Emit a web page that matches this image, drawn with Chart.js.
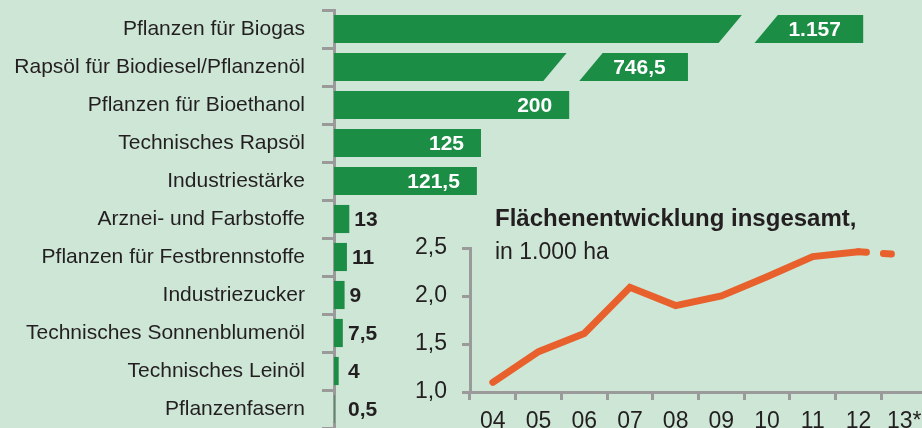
<!DOCTYPE html>
<html><head><meta charset="utf-8">
<script src="https://cdn.jsdelivr.net/npm/chart.js@4.4.1/dist/chart.umd.min.js"></script>
<style>
html,body{margin:0;padding:0;width:922px;height:428px;overflow:hidden;background:#cde6d6;}
#wrap{position:relative;width:922px;height:428px;overflow:hidden;}
#bars{position:absolute;left:0;top:0;}
#inset{position:absolute;left:400px;top:230px;}
.t{position:absolute;left:495px;white-space:nowrap;color:#231f20;font-family:'Liberation Sans Narrow','Arial Narrow','Liberation Sans',Arial,sans-serif;}
</style></head><body>
<div id="wrap">
<canvas id="bars" width="922" height="428"></canvas>
<canvas id="inset" width="540" height="198"></canvas>
<div class="t" style="top:206px;font-size:24px;line-height:24px;font-weight:bold;">Flächenentwicklung insgesamt,</div>
<div class="t" style="top:240px;font-size:23px;line-height:23px;">in 1.000 ha</div>
</div>
<script>
// ---- data ----
const categories = ['Pflanzen für Biogas','Rapsöl für Biodiesel/Pflanzenöl','Pflanzen für Bioethanol','Technisches Rapsöl','Industriestärke','Arznei- und Farbstoffe','Pflanzen für Festbrennstoffe','Industriezucker','Technisches Sonnenblumenöl','Technisches Leinöl','Pflanzenfasern'];
const areaValues = [1157, 746.5, 200, 125, 121.5, 13, 11, 9, 7.5, 4, 0.5];
const years = ['04','05','06','07','08','09','10','11','12','13*'];
const totalArea = [1.10, 1.42, 1.61, 2.09, 1.90, 2.00, 2.20, 2.41, 2.46, 2.43];

// ---- style ----
const BG = '#cde6d6', GREEN = '#1b8d44', GRAY = '#9a9a9a', TEXT = '#231f20', ORANGE = '#e8602c';
const FONT = "'Liberation Sans Narrow','Arial Narrow','Liberation Sans',Arial,sans-serif";

function fmt(v){
  let [i,d] = String(v).split('.');
  i = i.replace(/\B(?=(\d{3})+(?!\d))/g,'.');
  return d ? i + ',' + d : i;
}
function noPad(s){ s.paddingTop = 0; s.paddingBottom = 0; s.paddingLeft = 0; s.paddingRight = 0; }

// broken value axis: values above the break are compressed
const BREAK_AT = 300;
function axisPosition(v){ return v > BREAK_AT ? 30 + v * 0.363 : v; }
class BrokenScale extends Chart.LinearScale {
  getPixelForValue(v){ return super.getPixelForValue(axisPosition(v)); }
}
BrokenScale.id = 'broken';
BrokenScale.defaults = Chart.LinearScale.defaults;
Chart.register(BrokenScale);

const barLabels = {
  id:'barLabels',
  afterDatasetsDraw(chart){
    const ctx = chart.ctx;
    const meta = chart.getDatasetMeta(0);
    meta.data.forEach((bar, i) => {
      const v = areaValues[i];
      const p = bar.getProps(['x','y','height'], true);
      const x = p.x, y = p.y, h = p.height;
      ctx.save();
      ctx.textBaseline = 'middle';
      if (v > BREAK_AT) {
        const top = y - h/2, bot = y + h/2, cx = x - 115, hw = 18, sl = 12.5;
        ctx.fillStyle = BG;
        ctx.beginPath();
        ctx.moveTo(cx - hw + sl, top - 1);
        ctx.lineTo(cx + hw + sl, top - 1);
        ctx.lineTo(cx + hw - sl, bot + 1);
        ctx.lineTo(cx - hw - sl, bot + 1);
        ctx.closePath();
        ctx.fill();
        ctx.fillStyle = '#fff';
        ctx.font = 'bold 21px ' + FONT;
        ctx.textAlign = 'center';
        ctx.fillText(fmt(v), (cx + hw + x) / 2, y + 1);
      } else if (v >= 100) {
        ctx.fillStyle = '#fff';
        ctx.font = 'bold 21px ' + FONT;
        ctx.textAlign = 'right';
        ctx.fillText(fmt(v), x - 17, y + 1);
      } else {
        ctx.fillStyle = TEXT;
        ctx.font = 'bold 21px ' + FONT;
        ctx.textAlign = 'left';
        ctx.fillText(fmt(v), Math.max(x + 5, 348), y + 1);
      }
      ctx.restore();
    });
  }
};

new Chart(document.getElementById('bars'), {
  type:'bar',
  data:{labels:categories, datasets:[{data:areaValues, backgroundColor:GREEN, borderWidth:0, barPercentage:0.74, categoryPercentage:1}]},
  options:{
    indexAxis:'y', responsive:false, animation:false,
    layout:{padding:{top:10, right:0, bottom:0, left:0}},
    plugins:{legend:{display:false}, tooltip:{enabled:false}},
    scales:{
      x:{type:'broken', display:false, min:0, max:500},
      y:{
        grid:{offset:true, drawOnChartArea:false, tickLength:12, color:GRAY, lineWidth:3},
        border:{color:GRAY, width:3},
        ticks:{color:TEXT, font:{family:FONT, size:21}, padding:17, autoSkip:false},
        afterFit(s){ s.width = 334; noPad(s); }
      }
    }
  },
  plugins:[barLabels]
});

new Chart(document.getElementById('inset'), {
  type:'line',
  data:{labels:years, datasets:[{
    data:totalArea, borderColor:ORANGE, borderWidth:7, borderCapStyle:'round', borderJoinStyle:'miter',
    pointRadius:0, tension:0, fill:false, clip:10,
    segment:{borderDash: c => c.p1DataIndex === years.length - 1 ? [8,17] : undefined}
  }]},
  options:{
    responsive:false, animation:false,
    layout:{padding:{top:18, right:13, left:0, bottom:0}},
    plugins:{legend:{display:false}, tooltip:{enabled:false}},
    scales:{
      x:{
        offset:true,
        grid:{offset:true, drawOnChartArea:false, tickLength:8, color:GRAY, lineWidth:3},
        border:{color:GRAY, width:3},
        ticks:{color:TEXT, font:{family:FONT, size:23}, padding:8, maxRotation:0, autoSkip:false},
        afterFit(s){ s.height = 36; noPad(s); }
      },
      y:{
        min:1, max:2.5,
        grid:{drawOnChartArea:false, tickLength:8, color:GRAY, lineWidth:3},
        border:{color:GRAY, width:3},
        ticks:{stepSize:0.5, color:TEXT, font:{family:FONT, size:23}, padding:15, callback:v => v.toFixed(1).replace('.',',')},
        afterFit(s){ s.width = 70; noPad(s); }
      }
    }
  }
});
</script>
</body></html>
